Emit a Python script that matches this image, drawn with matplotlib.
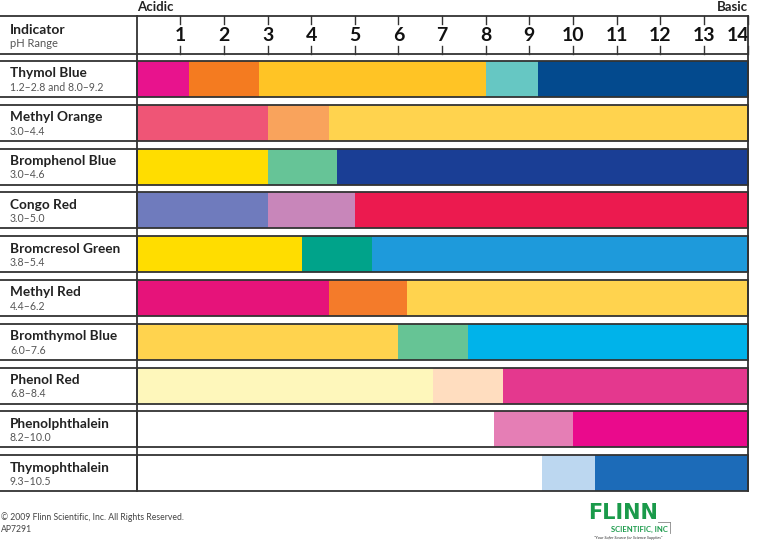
import matplotlib
matplotlib.use("Agg")
import matplotlib.pyplot as plt

plt.rcParams['font.family'] = ['Lato', 'DejaVu Sans']

indicators = ["Thymol Blue", "Methyl Orange", "Bromphenol Blue", "Congo Red",
              "Bromcresol Green", "Methyl Red", "Bromthymol Blue", "Phenol Red",
              "Phenolphthalein", "Thymophthalein"]
ph_ranges = ["1.2–2.8 and 8.0–9.2", "3.0–4.4", "3.0–4.6", "3.0–5.0", "3.8–5.4",
             "4.4–6.2", "6.0–7.6", "6.8–8.4", "8.2–10.0", "9.3–10.5"]
transitions = [[1.2, 2.8, 8.0, 9.2], [3.0, 4.4], [3.0, 4.6], [3.0, 5.0], [3.8, 5.4],
               [4.4, 6.2], [6.0, 7.6], [6.8, 8.4], [8.2, 10.0], [9.3, 10.5]]
segment_colors = [
    ["#E8138D", "#F47B20", "#FFC425", "#66C7C3", "#034A8E"],
    ["#EF5576", "#F9A35C", "#FFD34E"],
    ["#FFDD00", "#66C497", "#1A3E95"],
    ["#6F7BBD", "#C886BA", "#EC1A4F"],
    ["#FFDD00", "#00A38A", "#1E9ADB"],
    ["#E6137A", "#F47B2A", "#FFD34E"],
    ["#FFD34E", "#66C495", "#00B3EA"],
    ["#FEF7BB", "#FFDDBF", "#E4388E"],
    ["#FFFFFF", "#E57EB5", "#EA0A8C"],
    ["#FFFFFF", "#BCD7F0", "#1C6BB8"],
]
ph_min, ph_max = 0, 14
ph_ticks = list(range(1, 15))

fig = plt.figure(figsize=(7.6, 5.42), dpi=100)
ax = fig.add_axes([0, 0, 1, 1])
ax.axis('off')

px_per_ph = 43.64
x0_px = 136.6
pitch = 43.8
row0_px = 79
ax.set_xlim(-x0_px / px_per_ph, (760 - x0_px) / px_per_ph)
ax.set_ylim((542 - row0_px) / pitch, -row0_px / pitch)


def px(x):
    return (x - x0_px) / px_per_ph


def py(y):
    return (y - row0_px) / pitch


edge = "#333333"
lw = 1.3
bh = 36 / pitch
xl = px(0)

for i, (name, rng, tr, cols) in enumerate(zip(indicators, ph_ranges, transitions, segment_colors)):
    bounds = [ph_min] + tr + [ph_max]
    for j, c in enumerate(cols):
        ax.barh(i, bounds[j + 1] - bounds[j], left=bounds[j], height=bh,
                color=c, edgecolor='none', linewidth=0)
    ax.barh(i, ph_max - ph_min, left=ph_min, height=bh, color='none',
            edgecolor=edge, linewidth=lw, zorder=3)
    ax.plot([xl, 0], [i - bh / 2, i - bh / 2], color=edge, lw=lw, zorder=3)
    ax.plot([xl, 0], [i + bh / 2, i + bh / 2], color=edge, lw=lw, zorder=3)
    ax.text(px(10), i - 0.13, name, fontsize=9.8, fontweight='bold',
            color='#222222', va='center', ha='left')
    ax.text(px(10), i + 0.19, rng, fontsize=7.6, color='#555555',
            va='center', ha='left')

# header
y_top = py(16)
y_hb = py(54)
ax.plot([xl, ph_max], [y_top, y_top], color=edge, lw=lw)
ax.plot([xl, ph_max], [y_hb, y_hb], color=edge, lw=lw)
y_last = len(indicators) - 1 + bh / 2
ax.plot([ph_min, ph_min], [y_top, y_last], color=edge, lw=lw, zorder=4)
ax.plot([ph_max, ph_max], [y_top, y_last], color=edge, lw=lw, zorder=4)

tick_len = 8 / pitch
y_mid = (y_top + y_hb) / 2
for t in ph_ticks:
    ax.plot([t, t], [y_top, y_top + tick_len], color=edge, lw=1)
    ax.plot([t, t], [y_hb - tick_len, y_hb], color=edge, lw=1)
    ax.text(t + (0.05 if t == 14 else 0), y_mid + 0.02, str(t), fontsize=14,
            fontweight='bold', color='#111111',
            ha='right' if t == 14 else 'center', va='center')

ax.text(px(10), py(30), "Indicator", fontsize=10,
        fontweight='bold', color='#222222', va='center')
ax.text(px(10), py(43), "pH Range", fontsize=8,
        color='#555555', va='center')
ax.text(ph_min, py(7), "Acidic", fontsize=9.5, fontweight='bold',
        color='#222222', va='center', ha='left')
ax.text(ph_max, py(7), "Basic", fontsize=9.5, fontweight='bold',
        color='#222222', va='center', ha='right')

# footer
ax.text(px(1), py(517), "© 2009 Flinn Scientific, Inc. All Rights Reserved.",
        fontsize=6.2, color='#444444', va='center')
ax.text(px(1), py(529), "AP7291", fontsize=6.2, color='#444444', va='center')
ax.text(px(588), py(513), "FLINN", fontsize=15, fontweight='heavy',
        color='#1A9A4A', va='center', ha='left', family=['DejaVu Sans'])
ax.text(px(668), py(529), "SCIENTIFIC, INC",
        fontsize=5.5, fontweight='bold', color='#1A9A4A', va='center', ha='right')
ax.text(px(628), py(537.5),
        "\"Your Safer Source for Science Supplies\"", fontsize=3.0, style='italic',
        color='#333333', va='center', ha='center')
ax.plot([px(658), px(670)], [py(522)] * 2, color='#888888', lw=0.6)
ax.plot([px(670)] * 2, [py(522), py(533)], color='#888888', lw=0.6)

fig.savefig("out.png", dpi=100)
